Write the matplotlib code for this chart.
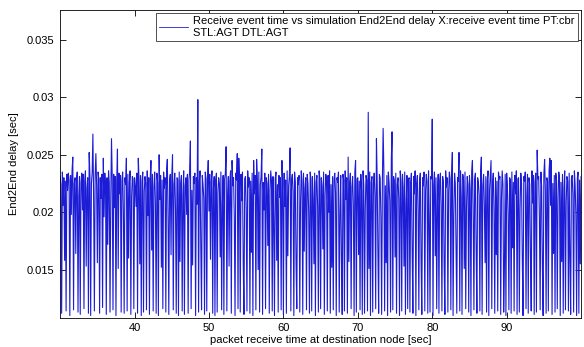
import numpy as np
import matplotlib
matplotlib.use('Agg')
import matplotlib.pyplot as plt

plt.rcParams['font.family'] = ['Liberation Sans', 'DejaVu Sans']

# receive times: cbr packets, one sample every 0.1 s from 30 s
t_start = 30.0
t_step = 0.1

# end2end delay in ms, one row = 1 s of packets
delay_ms = [
    23.1, 22.4, 11.2, 23.5, 20.6, 23.0, 15.8, 22.7, 11.4, 23.3,
    21.9, 23.4, 22.8, 11.0, 23.2, 19.8, 23.6, 24.8, 11.5, 22.5,
    23.0, 16.4, 22.9, 23.5, 11.3, 21.4, 23.1, 11.1, 22.6, 23.4,
    20.2, 23.3, 11.6, 22.7, 23.6, 15.3, 22.1, 23.0, 11.2, 25.2,
    23.2, 11.0, 22.5, 23.4, 26.8, 20.9, 11.4, 23.1, 25.1, 22.3,
    15.6, 23.5, 22.8, 11.2, 23.0, 21.2, 23.3, 11.7, 24.7, 19.6,
    23.4, 22.2, 11.1, 23.0, 17.2, 23.6, 22.6, 11.3, 21.0, 26.4,
    22.9, 11.5, 23.3, 20.4, 23.1, 11.0, 22.7, 25.5, 15.1, 23.4,
    21.6, 23.2, 11.3, 22.8, 23.5, 19.9, 11.2, 23.0, 22.4, 24.7,
    11.4, 23.3, 16.0, 22.6, 23.6, 11.1, 21.3, 23.1, 22.9, 11.6,
    23.0, 22.3, 20.5, 23.4, 11.2, 24.7, 22.8, 15.5, 23.2, 11.0,
    22.7, 23.5, 11.3, 21.8, 23.1, 22.5, 11.5, 23.6, 19.7, 23.0,
    11.1, 22.9, 24.5, 16.7, 23.3, 11.4, 22.2, 23.5, 20.8, 11.2,
    23.4, 22.6, 11.0, 25.0, 21.1, 23.2, 15.2, 22.8, 11.6, 23.5,
    22.1, 23.0, 11.3, 23.6, 24.6, 19.5, 11.1, 22.7, 23.3, 16.3,
    23.1, 25.0, 11.5, 22.4, 23.4, 20.3, 11.2, 23.0, 22.9, 11.0,
    23.5, 15.7, 22.6, 23.2, 11.4, 21.5, 23.6, 11.1, 22.3, 23.0,
    19.8, 23.3, 11.2, 22.8, 23.5, 26.2, 11.6, 21.9, 15.4, 23.1,
    22.5, 23.4, 11.0, 23.0, 20.7, 29.8, 11.3, 22.7, 23.6, 16.9,
    11.5, 23.2, 22.4, 21.2, 11.1, 23.5, 22.9, 11.4, 23.0, 24.5,
    20.1, 23.3, 15.9, 22.6, 23.6, 11.2, 22.1, 23.1, 11.0, 22.8,
    23.4, 11.3, 21.7, 23.0, 22.5, 16.1, 23.5, 11.5, 20.6, 23.2,
    11.1, 22.9, 23.4, 25.7, 11.4, 21.4, 23.1, 15.3, 22.7, 23.6,
    11.2, 24.5, 22.3, 23.0, 19.6, 11.0, 23.4, 22.8, 25.1, 11.6,
    24.7, 22.6, 11.3, 23.3, 21.0, 23.5, 15.6, 11.1, 22.9, 23.1,
    20.3, 11.4, 23.6, 22.2, 23.0, 11.2, 22.7, 16.5, 23.4, 11.0,
    24.5, 21.6, 23.2, 11.5, 24.6, 22.8, 15.0, 23.5, 11.3, 22.4,
    23.1, 25.5, 11.1, 22.6, 20.2, 23.4, 11.6, 23.0, 22.5, 17.1,
    23.3, 11.2, 21.9, 23.6, 22.7, 11.4, 23.1, 19.4, 11.0, 22.9,
    23.5, 15.8, 22.4, 11.3, 23.2, 21.3, 23.0, 11.5, 24.5, 22.6,
    11.1, 23.4, 20.5, 22.8, 11.2, 23.6, 16.2, 22.3, 23.1, 25.6,
    11.4, 22.9, 23.3, 21.8, 11.0, 23.5, 22.6, 15.4, 11.6, 23.0,
    22.4, 23.2, 11.3, 20.8, 23.6, 22.7, 11.1, 23.4, 16.6, 22.1,
    23.0, 11.5, 23.3, 22.5, 19.9, 11.2, 23.5, 22.8, 11.4, 23.1,
    21.2, 15.5, 23.4, 11.0, 22.6, 23.2, 20.4, 11.3, 23.6, 22.9,
    11.6, 23.0, 22.3, 16.8, 23.5, 11.1, 21.5, 23.3, 22.7, 11.4,
    23.2, 20.0, 23.6, 11.2, 22.4, 15.2, 23.1, 11.5, 22.9, 23.4,
    21.7, 11.0, 23.0, 22.6, 23.5, 11.3, 19.7, 23.2, 16.0, 11.1,
    23.3, 22.8, 11.4, 23.6, 21.1, 23.0, 11.2, 24.8, 15.7, 22.5,
    23.4, 11.6, 22.2, 23.1, 20.6, 11.0, 23.5, 24.5, 11.3, 22.9,
    23.0, 16.3, 22.7, 11.5, 23.3, 21.9, 11.1, 23.6, 22.4, 11.2,
    20.3, 23.2, 22.8, 11.4, 28.7, 15.1, 23.5, 11.0, 22.6, 23.1,
    11.3, 22.5, 23.4, 21.4, 11.6, 26.4, 22.9, 16.4, 11.2, 23.3,
    23.0, 19.5, 11.1, 22.7, 27.3, 23.6, 11.4, 22.3, 15.6, 23.2,
    11.0, 23.5, 22.6, 20.9, 11.3, 24.6, 27.0, 11.5, 23.1, 22.8,
    16.1, 23.4, 11.2, 22.4, 23.0, 21.2, 11.0, 23.6, 22.7, 11.4,
    23.3, 22.1, 15.3, 23.5, 11.1, 20.7, 23.2, 11.6, 22.9, 23.0,
    11.3, 22.6, 23.4, 16.7, 11.2, 23.1, 21.6, 23.6, 11.0, 22.5,
    23.2, 20.2, 11.5, 22.8, 23.4, 15.8, 11.1, 23.0, 22.3, 23.5,
    11.4, 21.8, 23.3, 22.7, 11.2, 23.6, 19.6, 11.3, 23.1, 22.9,
    28.1, 11.0, 22.4, 23.5, 16.2, 23.0, 11.6, 21.0, 23.3, 11.2,
    22.8, 23.4, 20.5, 11.4, 23.1, 22.6, 15.4, 11.1, 23.6, 22.2,
    23.0, 11.3, 21.7, 23.5, 22.9, 11.5, 23.2, 25.2, 11.0, 19.8,
    23.4, 22.5, 16.5, 11.2, 23.0, 22.7, 25.2, 11.4, 23.6, 21.3,
    11.1, 23.3, 22.8, 15.1, 23.5, 11.6, 20.4, 23.1, 22.4, 11.3,
    23.2, 22.0, 11.0, 23.6, 24.5, 19.9, 11.5, 22.9, 23.4, 16.8,
    11.2, 23.0, 22.6, 21.5, 11.4, 23.5, 24.8, 11.1, 22.3, 23.3,
    20.7, 15.6, 23.1, 11.3, 22.8, 23.6, 11.0, 21.9, 23.2, 24.5,
    11.6, 22.5, 23.4, 20.1, 11.2, 23.0, 16.3, 22.7, 11.4, 23.5,
    22.9, 23.1, 11.1, 21.2, 23.6, 22.4, 11.3, 15.2, 23.3, 11.0,
    23.4, 22.2, 19.7, 11.5, 23.0, 22.8, 11.2, 23.5, 16.9, 22.6,
    11.4, 23.2, 21.6, 23.6, 11.1, 22.9, 23.0, 11.3, 20.3, 23.4,
    22.5, 15.9, 11.0, 23.1, 22.7, 23.5, 11.6, 21.4, 23.3, 11.2,
    23.0, 22.4, 16.1, 11.4, 23.6, 20.8, 23.2, 11.1, 22.6, 23.4,
    11.3, 25.4, 22.9, 23.1, 19.5, 11.5, 23.5, 22.2, 15.3, 11.0,
    23.3, 24.6, 21.9, 11.2, 23.0, 22.7, 11.4, 23.6, 24.7, 20.6,
    24.5, 11.1, 22.5, 16.4, 23.2, 11.3, 23.4, 22.8, 11.6, 21.1,
    23.5, 23.0, 11.0, 22.6, 15.7, 23.3, 11.2, 22.1, 23.6, 11.5,
    20.9, 23.1, 22.7, 11.4, 23.4, 16.0, 11.1, 22.9, 23.2, 21.5,
    11.3, 23.6, 22.4, 19.8, 11.0, 23.0, 23.5, 11.2, 22.8, 15.5,
    23.1,
]

x_ticks = [40, 50, 60, 70, 80, 90]
y_ticks = [0.015, 0.02, 0.025, 0.03, 0.035]

delay = np.array(delay_ms) / 1000.0
t = t_start + t_step * np.arange(len(delay))

fig = plt.figure(figsize=(5.84, 3.47), dpi=100)
ax = fig.add_axes([0.103, 0.084, 0.892, 0.887])

ax.plot(t, delay, color='#1c1cd6', linewidth=0.8,
        label='Receive event time vs simulation End2End delay X:receive event time PT:cbr\nSTL:AGT DTL:AGT')

ax.set_xlim(30, 100)
ax.set_ylim(0.0108, 0.0376)
ax.set_xticks(x_ticks)
ax.set_yticks(y_ticks)
ax.set_yticklabels(['0.015', '0.02', '0.025', '0.03', '0.035'])
ax.tick_params(direction='in', top=True, right=True, length=4, width=0.6, labelsize=8, pad=4)
for s in ax.spines.values():
    s.set_linewidth(0.6)

ax.set_xlabel('packet receive time at destination node [sec]', fontsize=8, labelpad=1)
ax.set_ylabel('End2End delay [sec]', fontsize=8, labelpad=6)

leg = ax.legend(loc='upper right', fontsize=8, fancybox=False, framealpha=1,
                edgecolor='#333333', borderaxespad=0.3, handlelength=2.6,
                borderpad=0.25, handletextpad=0.5)
leg.get_frame().set_linewidth(0.6)
leg.get_lines()[0].set_linewidth(0.6)

fig.savefig('out.png', dpi=100)
